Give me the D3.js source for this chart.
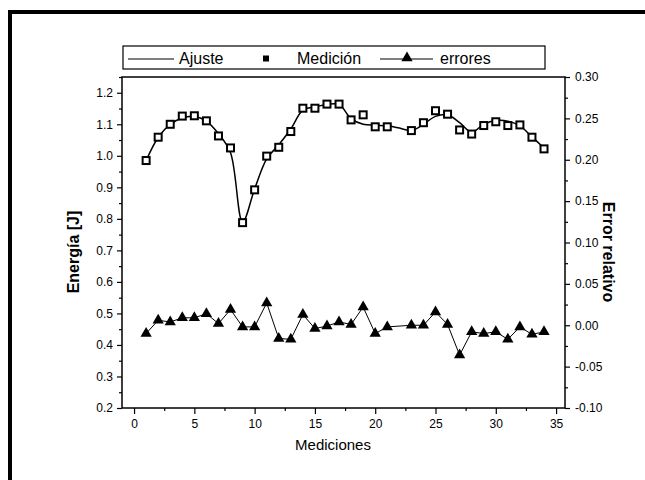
<!DOCTYPE html>
<html><head><meta charset="utf-8">
<script src="https://cdn.jsdelivr.net/npm/d3@7"></script>
<style>body{margin:0;background:#fff}svg{display:block}text{font-family:"Liberation Sans",Arial,sans-serif;fill:#000}</style>
</head><body><svg id="c" width="645" height="480"></svg>
<script>
// Data
const measX = [1,2,3,4,5,6,7,8,9,10,11,12,13,14,15,16,17,18,19,20,21,23,24,25,26,27,28,29,30,31,32,33,34];
const medicion = [0.985,1.059,1.100,1.126,1.127,1.111,1.063,1.025,0.788,0.892,0.999,1.027,1.077,1.151,1.151,1.164,1.164,1.114,1.130,1.092,1.092,1.080,1.105,1.143,1.132,1.082,1.069,1.096,1.108,1.096,1.098,1.059,1.022];
const errores = [-0.010,0.006,0.004,0.009,0.009,0.014,0.002,0.019,-0.002,-0.002,0.027,-0.016,-0.017,0.013,-0.004,-0.001,0.004,0.001,0.022,-0.010,-0.002,0.000,0.000,0.016,0.001,-0.036,-0.008,-0.010,-0.008,-0.017,-0.002,-0.011,-0.008];
const fitX = [1,2,3,4,5,6,7,8,9,10,11,12,13,14,15,16,17,18,19,20,21,22,23,24,25,26,27,28,29,30,31,32,33,34];
const ajuste = [0.985,1.058,1.100,1.120,1.125,1.110,1.070,1.010,0.790,0.895,0.990,1.035,1.085,1.145,1.155,1.163,1.163,1.118,1.100,1.097,1.095,1.088,1.080,1.100,1.125,1.130,1.105,1.075,1.100,1.112,1.110,1.095,1.060,1.025];
const xTicks = [0,5,10,15,20,25,30,35];
const yLeftTicks = [0.2,0.3,0.4,0.5,0.6,0.7,0.8,0.9,1.0,1.1,1.2];
const yRightTicks = [-0.10,-0.05,0.00,0.05,0.10,0.15,0.20,0.25,0.30];

const svg = d3.select("#c");
const L=122,R=565,T=77,B=408;
const x = d3.scaleLinear().domain([-1,35.74]).range([L,R]);
const yL = d3.scaleLinear().domain([0.2,1.25]).range([B,T]);
const yR = d3.scaleLinear().domain([-0.10,0.30]).range([B,T]);

// outer frame (left + top)
svg.append("line").attr("x1",10).attr("x2",10).attr("y1",11).attr("y2",480).attr("stroke","#000").attr("stroke-width",4);
svg.append("line").attr("x1",8).attr("x2",645).attr("y1",12).attr("y2",12).attr("stroke","#000").attr("stroke-width",4);

// plot box
svg.append("rect").attr("x",L).attr("y",T).attr("width",R-L).attr("height",B-T).attr("fill","none").attr("stroke","#000").attr("stroke-width",1.5);

function styleAxis(g){g.select(".domain").remove();g.selectAll("line").attr("stroke","#000").attr("stroke-width",1.2);g.selectAll("text").style("font-size","12px").style("font-family","'Liberation Sans',Arial,sans-serif");}
const fmt2 = d => d3.format(".2f")(d).replace("−","-");

// bottom axis
svg.append("g").attr("transform",`translate(0,${B})`).call(d3.axisBottom(x).tickValues(xTicks).tickSize(6).tickPadding(5).tickFormat(d3.format("d"))).call(styleAxis);
svg.append("g").attr("transform",`translate(0,${B})`).call(d3.axisBottom(x).tickValues(xTicks.map(d=>d+2.5).filter(d=>d<35.7)).tickSize(3).tickFormat("")).call(styleAxis);
// left axis
svg.append("g").attr("transform",`translate(${L},0)`).call(d3.axisLeft(yL).tickValues(yLeftTicks).tickSize(5).tickPadding(4).tickFormat(d3.format(".1f"))).call(styleAxis);
svg.append("g").attr("transform",`translate(${L},0)`).call(d3.axisLeft(yL).tickValues(yLeftTicks.map(d=>d+0.05)).tickSize(3).tickFormat("")).call(styleAxis);
// right axis
svg.append("g").attr("transform",`translate(${R},0)`).call(d3.axisRight(yR).tickValues(yRightTicks).tickSize(5).tickPadding(5).tickFormat(fmt2)).call(styleAxis);
svg.append("g").attr("transform",`translate(${R},0)`).call(d3.axisRight(yR).tickValues(yRightTicks.slice(0,-1).map(d=>d+0.025)).tickSize(3).tickFormat("")).call(styleAxis);

// axis titles
svg.append("text").attr("x",333).attr("y",450).attr("text-anchor","middle").style("font-size","15px").text("Mediciones");
svg.append("text").attr("transform","translate(79,252) rotate(-90)").attr("text-anchor","middle").style("font-size","16px").style("font-weight","bold").text("Energía [J]");
svg.append("text").attr("transform","translate(603,252) rotate(90)").attr("text-anchor","middle").style("font-size","16px").style("font-weight","bold").text("Error relativo");

// fit curve
svg.append("path").datum(fitX.map((d,i)=>[d,ajuste[i]]))
  .attr("d",d3.line().x(d=>x(d[0])).y(d=>yL(d[1])).curve(d3.curveCatmullRom.alpha(0.5)))
  .attr("fill","none").attr("stroke","#000").attr("stroke-width",1.5);

// measurements
svg.append("g").selectAll("rect").data(measX.map((d,i)=>[d,medicion[i]])).join("rect")
  .attr("x",d=>x(d[0])-3.5).attr("y",d=>yL(d[1])-3.5).attr("width",7).attr("height",7)
  .attr("fill","#fff").attr("stroke","#000").attr("stroke-width",2);

// errors
const errPts = measX.map((d,i)=>[d,errores[i]]);
svg.append("path").datum(errPts).attr("d",d3.line().x(d=>x(d[0])).y(d=>yR(d[1])))
  .attr("fill","none").attr("stroke","#000").attr("stroke-width",1);
const tri = d3.symbol().type(d3.symbolTriangle).size(55);
svg.append("g").selectAll("path").data(errPts).join("path")
  .attr("transform",d=>`translate(${x(d[0])},${yR(d[1])})`).attr("d",tri).attr("fill","#000");

// legend
const lg = svg.append("g");
lg.append("rect").attr("x",123).attr("y",46).attr("width",422).attr("height",23).attr("fill","#fff").attr("stroke","#000").attr("stroke-width",1.2);
lg.append("line").attr("x1",128).attr("x2",174).attr("y1",59).attr("y2",59).attr("stroke","#000").attr("stroke-width",1.2);
lg.append("text").attr("x",179).attr("y",64).style("font-size","16px").text("Ajuste");
lg.append("rect").attr("x",263).attr("y",55.5).attr("width",6).attr("height",6).attr("fill","#000");
lg.append("text").attr("x",297).attr("y",64).style("font-size","16px").text("Medición");
lg.append("line").attr("x1",380).attr("x2",433).attr("y1",59).attr("y2",59).attr("stroke","#000").attr("stroke-width",1.2);
lg.append("path").attr("transform","translate(407,58)").attr("d",tri).attr("fill","#000");
lg.append("text").attr("x",440).attr("y",64).style("font-size","16px").text("errores");
</script></body></html>
